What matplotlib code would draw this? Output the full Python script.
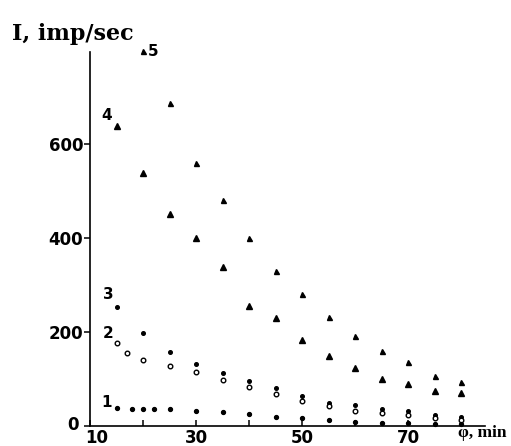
import matplotlib
matplotlib.use("Agg")
import matplotlib.pyplot as plt
from matplotlib.transforms import ScaledTranslation

# ============================================================
# DATA
# ============================================================
X5 = [20, 25, 30, 35, 40, 45, 50, 55, 60, 65, 70, 75, 80]
Y5 = [798, 687, 560, 481, 400, 330, 281, 232, 191, 160, 136, 106, 94]

X4 = [15, 20, 25, 30, 35, 40, 45, 50, 55, 60, 65, 70, 75, 80]
Y4 = [638, 538, 451, 400, 338, 255, 230, 183, 149, 123, 100, 89, 74, 70]

X3 = [15, 20, 25, 30, 35, 40, 45, 50, 55, 60, 65, 70, 75, 80]
Y3 = [253, 198, 157, 132, 113, 96, 81, 64, 49, 45, 36, 32, 23, 19]

X2 = [15, 17, 20, 25, 30, 35, 40, 45, 50, 55, 60, 65, 70, 75, 80]
Y2 = [177, 155, 140, 128, 115, 98, 83, 68, 53, 43, 32, 28, 23, 17, 13]

X1 = [15, 18, 20, 22, 25, 30, 35, 40, 45, 50, 55, 60, 65, 70, 75, 80]
Y1 = [38, 36, 36, 36, 36, 32, 30, 26, 20, 17, 13, 9, 6, 6, 4, 4]

CURVE_NAMES = ["1", "2", "3", "4", "5"]
X_TICKS = [10, 20, 30, 40, 50, 60, 70, 80]
X_TICK_LABELS = ["10", "", "30", "", "50", "", "70", ""]
Y_TICKS = [0, 200, 400, 600]

# label anchor positions (data coords)
LABEL_POS = {
    "1": (13.2, 51),
    "2": (13.4, 196),
    "3": (13.4, 279),
    "4": (13.2, 661),
    "5": (21.9, 797),
}

# ============================================================
# PLOT
# ============================================================
fig = plt.figure(figsize=(5.11, 4.46), dpi=100)
ax = fig.add_axes([90 / 511, 20 / 446, 395 / 511, 374 / 446])

ax.plot(X5, Y5, linestyle="none", marker="^", markersize=3.6, color="black", clip_on=False)
ax.plot(X4, Y4, linestyle="none", marker="^", markersize=4.0, color="black", clip_on=False)
ax.plot(X3, Y3, linestyle="none", marker="o", markersize=2.6, color="black", clip_on=False)
ax.plot(X2, Y2, linestyle="none", marker="o", markersize=3.3,
        markerfacecolor="white", markeredgecolor="black", markeredgewidth=1.0, clip_on=False)
ax.plot(X1, Y1, linestyle="none", marker="o", markersize=2.8, color="black", clip_on=False)

for name in CURVE_NAMES:
    lx, ly = LABEL_POS[name]
    ax.text(lx, ly, name, fontsize=11, fontweight="bold", family="DejaVu Sans",
            ha="center", va="center", clip_on=False)

ax.set_xlim(10, 84.5)
ax.set_ylim(0, 796)

ax.set_xticks(X_TICKS)
ax.set_xticklabels(X_TICK_LABELS)
ax.set_yticks(Y_TICKS)
ax.set_yticklabels([str(v) for v in Y_TICKS])

ax.tick_params(axis="x", direction="in", length=4, width=1.1, pad=2,
               labelsize=12)
ax.tick_params(axis="y", direction="out", length=4, width=1.1, pad=1,
               labelsize=12)
for lab in ax.get_xticklabels() + ax.get_yticklabels():
    lab.set_fontweight("bold")
    lab.set_family("DejaVu Sans")

# nudge "10" right and "0" up so they sit apart like in the reference
first_x = ax.get_xticklabels()[0]
first_x.set_transform(first_x.get_transform() + ScaledTranslation(5 / 72, 0, fig.dpi_scale_trans))
first_y = ax.get_yticklabels()[0]
first_y.set_transform(first_y.get_transform() + ScaledTranslation(-3 / 72, 2 / 72, fig.dpi_scale_trans))

for side in ["top", "right"]:
    ax.spines[side].set_visible(False)
for side in ["left", "bottom"]:
    ax.spines[side].set_linewidth(1.2)

fig.text(12 / 511, 1 - 40 / 446, "I, imp/sec", fontsize=16, fontweight="bold",
         family="DejaVu Serif", ha="left", va="baseline")
fig.text(458 / 511, 1 - 433 / 446, "\u03c6, min", fontsize=12.5, fontweight="bold",
         family="Liberation Serif", ha="left", va="center")

fig.savefig("out.png", dpi=100)
